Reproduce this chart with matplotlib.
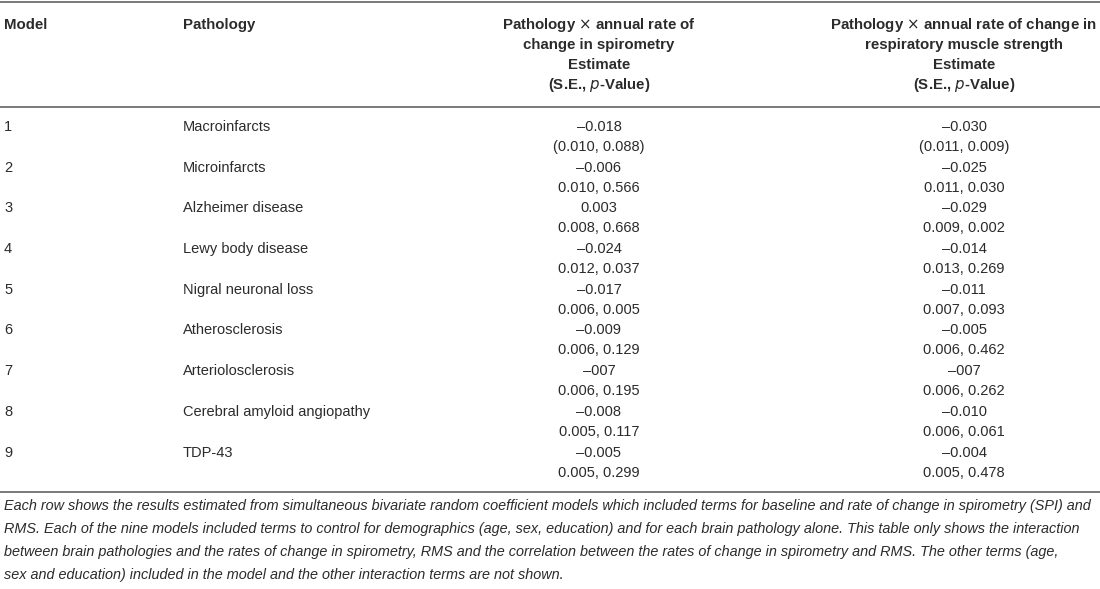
import matplotlib.pyplot as plt

models = ["1", "2", "3", "4", "5", "6", "7", "8", "9"]
pathologies = ["Macroinfarcts", "Microinfarcts", "Alzheimer disease", "Lewy body disease",
               "Nigral neuronal loss", "Atherosclerosis", "Arteriolosclerosis",
               "Cerebral amyloid angiopathy", "TDP-43"]
spi_est = ["\u20130.018", "\u20130.006", "0.003", "\u20130.024", "\u20130.017",
           "\u20130.009", "\u2013007", "\u20130.008", "\u20130.005"]
spi_se = ["(0.010, 0.088)", "0.010, 0.566", "0.008, 0.668", "0.012, 0.037", "0.006, 0.005",
          "0.006, 0.129", "0.006, 0.195", "0.005, 0.117", "0.005, 0.299"]
rms_est = ["\u20130.030", "\u20130.025", "\u20130.029", "\u20130.014", "\u20130.011",
           "\u20130.005", "\u2013007", "\u20130.010", "\u20130.004"]
rms_se = ["(0.011, 0.009)", "0.011, 0.030", "0.009, 0.002", "0.013, 0.269", "0.007, 0.093",
          "0.006, 0.462", "0.006, 0.262", "0.006, 0.061", "0.005, 0.478"]

footnote = [
    "Each row shows the results estimated from simultaneous bivariate random coefficient models which included terms for baseline and rate of change in spirometry (SPI) and",
    "RMS. Each of the nine models included terms to control for demographics (age, sex, education) and for each brain pathology alone. This table only shows the interaction",
    "between brain pathologies and the rates of change in spirometry, RMS and the correlation between the rates of change in spirometry and RMS. The other terms (age,",
    "sex and education) included in the model and the other interaction terms are not shown.",
]

W, H = 1100, 589
plt.rcParams['font.family'] = ['Liberation Sans', 'DejaVu Sans']
fig = plt.figure(figsize=(W / 100, H / 100), dpi=100)
ax = fig.add_axes([0, 0, 1, 1])
ax.set_xlim(0, W)
ax.set_ylim(H, 0)
ax.axis('off')

txt = '#2b2b2b'
rule = '#6e6e6e'
x_model, x_path, x_c3, x_c4 = 4, 183, 599, 964

# rules
for y in (2, 107, 492):
    ax.plot([0, W], [y, y], color=rule, lw=1.3)

# header
hdr = dict(fontsize=10.8, fontweight='bold', color=txt, va='center')
ax.text(x_model, 25, "Model", ha='left', **hdr)
ax.text(x_path, 25, "Pathology", ha='left', **hdr)
c3 = ["Pathology $\\times$ annual rate of", "change in spirometry", "Estimate"]
c4 = ["Pathology $\\times$ annual rate of change in", "respiratory muscle strength", "Estimate"]
for i, (a, b) in enumerate(zip(c3, c4)):
    ax.text(x_c3, 25 + 20 * i, a, ha='center', **hdr)
    ax.text(x_c4, 25 + 20 * i, b, ha='center', **hdr)
for xc in (x_c3, x_c4):
    ax.text(xc, 85, "(S.E., $\\bf{\\it{p}}$-Value)", ha='center', **hdr)

# body
body = dict(fontsize=10.5, color=txt, va='center')
step = 40.7
for i in range(len(models)):
    y1 = 127 + step * i
    y2 = y1 + 20
    ax.text(x_model, y1, models[i], ha='left', **body)
    ax.text(x_path, y1, pathologies[i], ha='left', **body)
    ax.text(x_c3, y1, spi_est[i], ha='center', **body)
    ax.text(x_c3, y2, spi_se[i], ha='center', **body)
    ax.text(x_c4, y1, rms_est[i], ha='center', **body)
    ax.text(x_c4, y2, rms_se[i], ha='center', **body)

# footnote
for i, line in enumerate(footnote):
    ax.text(4, 506 + 23 * i, line, ha='left', va='center', fontsize=10.4,
            style='italic', color=txt)

fig.savefig("out.png", dpi=100)
